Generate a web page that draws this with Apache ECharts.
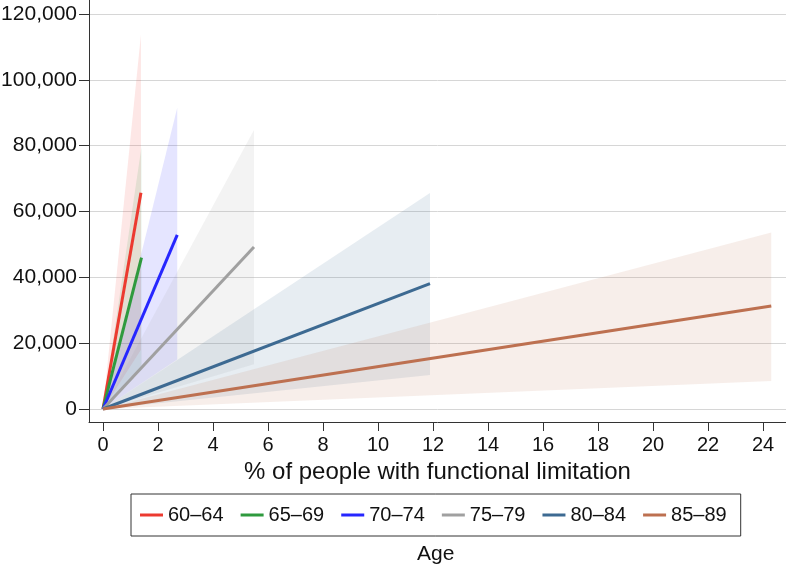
<!DOCTYPE html>
<html>
<head>
<meta charset="utf-8">
<script src="https://cdn.jsdelivr.net/npm/echarts@6/dist/echarts.min.js"></script>
<style>html,body{margin:0;padding:0;background:#fff}#c{width:786px;height:570px}</style>
</head>
<body>
<div id="c"></div>
<script>
// ---- data ----
const ageGroups = ['60–64', '65–69', '70–74', '75–79', '80–84', '85–89'];
const pctEnd   = [1.38, 1.40, 2.70, 5.49, 11.89, 24.30];   // % with functional limitation at end of line
const valEnd   = [65700, 46000, 52900, 49200, 38100, 31300];
const upperEnd = [113700, 79700, 91500, 84800, 65600, 53600];
const lowerEnd = [18000, 13000, 15000, 13600, 10300, 8500];
const origin = [0, 0];
const xTicks = [0, 2, 4, 6, 8, 10, 12, 14, 16, 18, 20, 22, 24];
const yTicks = [0, 20000, 40000, 60000, 80000, 100000, 120000];
const colors = ['#ec3a30', '#2f9a3e', '#2626ff', '#a0a0a0', '#3d6a92', '#bd7050'];

const chart = echarts.init(document.getElementById('c'), null, {renderer: 'canvas'});
const FONT = 'Liberation Sans, Arial, Helvetica, sans-serif';

const bandSeries = ageGroups.map((g, i) => ({
  type: 'custom',
  name: 'band ' + g,
  silent: true,
  clip: true,
  z: 1,
  encode: {x: 0, y: [1, 2]},
  data: [[pctEnd[i], upperEnd[i], lowerEnd[i]]],
  renderItem: function (params, api) {
    const p0 = api.coord(origin);
    const pu = api.coord([api.value(0), api.value(1)]);
    const pl = api.coord([api.value(0), api.value(2)]);
    return {
      type: 'polygon',
      shape: {points: [p0, pu, pl]},
      style: {fill: colors[i], opacity: 0.12}
    };
  }
}));

const lineSeries = ageGroups.map((g, i) => ({
  type: 'line',
  name: g,
  z: 3,
  symbol: 'none',
  silent: true,
  color: colors[i],
  lineStyle: {width: 3, color: colors[i]},
  data: [origin, [pctEnd[i], valEnd[i]]]
}));

chart.setOption({
  animation: false,
  backgroundColor: '#fff',
  grid: {left: 89, right: 0, top: 0, bottom: 148, containLabel: false, outerBoundsMode: 'none'},
  xAxis: {
    type: 'value',
    min: -0.509,
    max: 24.836,
    name: '% of people with functional limitation',
    nameLocation: 'middle',
    nameGap: 32,
    nameTextStyle: {fontSize: 24, color: '#111', fontFamily: FONT},
    axisLine: {show: true, onZero: false, lineStyle: {color: '#333', width: 1}},
    axisTick: {show: true, length: 9, lineStyle: {color: '#333'}, customValues: xTicks},
    axisLabel: {fontSize: 20, color: '#111', fontFamily: FONT, margin: 13, customValues: xTicks},
    splitLine: {show: false}
  },
  yAxis: {
    type: 'value',
    min: -3957,
    max: 124262,
    axisLine: {show: true, onZero: false, lineStyle: {color: '#333', width: 1}},
    axisTick: {show: true, length: 10, lineStyle: {color: '#333'}, customValues: yTicks},
    axisLabel: {fontSize: 21, color: '#111', fontFamily: FONT, margin: 12, customValues: yTicks,
      formatter: v => v.toLocaleString('en-US')},
    splitLine: {show: true, lineStyle: {color: '#d6d6d6', width: 1}}
  },
  legend: {
    data: ageGroups,
    left: 131,
    top: 494,
    orient: 'horizontal',
    padding: [11, 14, 11, 9],
    borderColor: '#333',
    borderWidth: 1,
    itemGap: 17,
    itemWidth: 23,
    itemHeight: 3,
    icon: 'rect',
    selectedMode: false,
    textStyle: {fontSize: 20, color: '#111', fontFamily: FONT}
  },
  graphic: [{
    type: 'text',
    left: 417,
    top: 544,
    style: {text: 'Age', fontSize: 21, fill: '#111', fontFamily: FONT}
  }],
  series: bandSeries.concat(lineSeries)
});
</script>
</body>
</html>
